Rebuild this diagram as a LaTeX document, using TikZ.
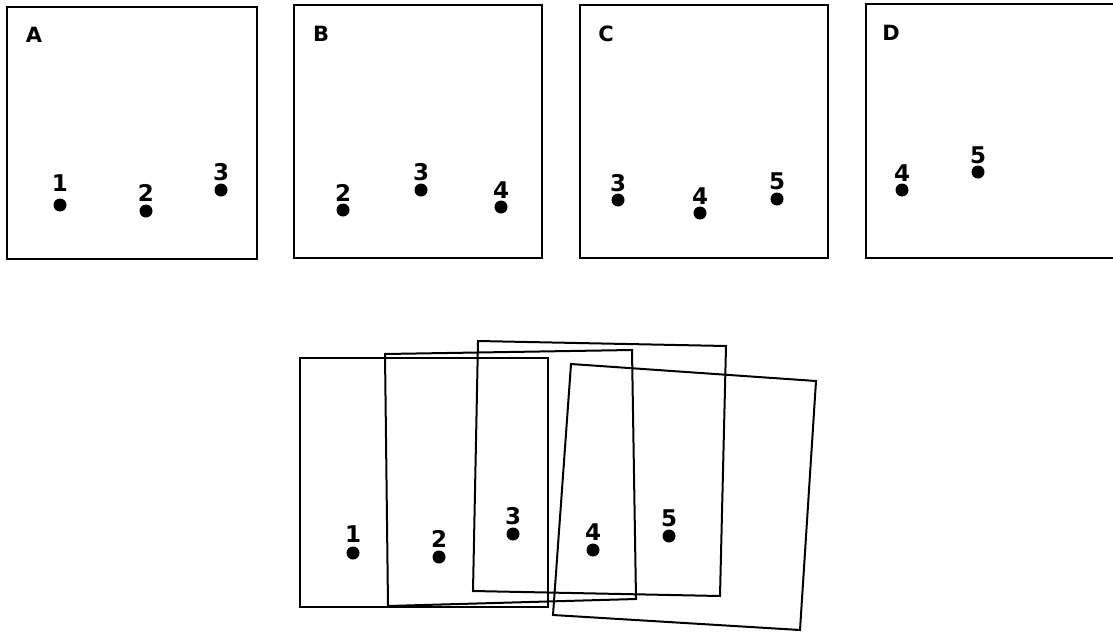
\documentclass[tikz,border=0pt]{standalone}
\usepackage{fontspec}
\setmainfont{DejaVu Sans}
\begin{document}
\begin{tikzpicture}[x=1pt,y=-1pt,
  frame/.style={line width=2.2pt,line join=miter},
  sheet/.style={line width=2pt,line join=miter},
  spot/.style={circle,fill=black,inner sep=0pt,minimum size=13pt},
  num/.style={font=\fontsize{23}{23}\selectfont\bfseries,inner sep=0pt},
  tag/.style={font=\fontsize{21}{21}\selectfont\bfseries,inner sep=0pt}]
\useasboundingbox (0,0) rectangle (1113,632);
% top frames
\draw[frame] (7,7) rectangle (257,259);
\draw[frame] (294,5) rectangle (542,258);
\draw[frame] (580,5) rectangle (828,258);
\draw[frame] (1114,4) -- (866,4) -- (866,258) -- (1114,258);
\node[tag] (tA) at (34,35) {A};
\node[tag] (tB) at (321,34) {B};
\node[tag] (tC) at (606,34) {C};
\node[tag] (tD) at (891,33) {D};
% frame A
\node[spot] (a1) at (60,205) {};  \node[num] (la1) at (60,183) {1};
\node[spot] (a2) at (146,211) {}; \node[num] (la2) at (146,193) {2};
\node[spot] (a3) at (221,190) {}; \node[num] (la3) at (221,172) {3};
% frame B
\node[spot] (b2) at (343,210) {}; \node[num] (lb2) at (343,193) {2};
\node[spot] (b3) at (421,190) {}; \node[num] (lb3) at (421,172) {3};
\node[spot] (b4) at (501,207) {}; \node[num] (lb4) at (501,190) {4};
% frame C
\node[spot] (c3) at (618,200) {}; \node[num] (lc3) at (618,183) {3};
\node[spot] (c4) at (700,213) {}; \node[num] (lc4) at (700,196) {4};
\node[spot] (c5) at (777,199) {}; \node[num] (lc5) at (777,181) {5};
% frame D
\node[spot] (d4) at (902,190) {}; \node[num] (ld4) at (902,173) {4};
\node[spot] (d5) at (978,172) {}; \node[num] (ld5) at (978,155) {5};
% composite
\draw[sheet] (300,358) -- (548,358) -- (548,607) -- (300,607) -- cycle;
\draw[sheet] (385,354) -- (632,350) -- (636,599) -- (388,606) -- cycle;
\draw[sheet] (478,341) -- (726,346) -- (720,596) -- (473,591) -- cycle;
\draw[sheet] (571,364) -- (816,381) -- (800,630) -- (553,615) -- cycle;
\node[spot] (m1) at (353,553) {}; \node[num] (lm1) at (353,534) {1};
\node[spot] (m2) at (439,557) {}; \node[num] (lm2) at (439,539) {2};
\node[spot] (m3) at (513,534) {}; \node[num] (lm3) at (513,516) {3};
\node[spot] (m4) at (593,550) {}; \node[num] (lm4) at (593,532) {4};
\node[spot] (m5) at (669,536) {}; \node[num] (lm5) at (669,518) {5};
\end{tikzpicture}
\end{document}
